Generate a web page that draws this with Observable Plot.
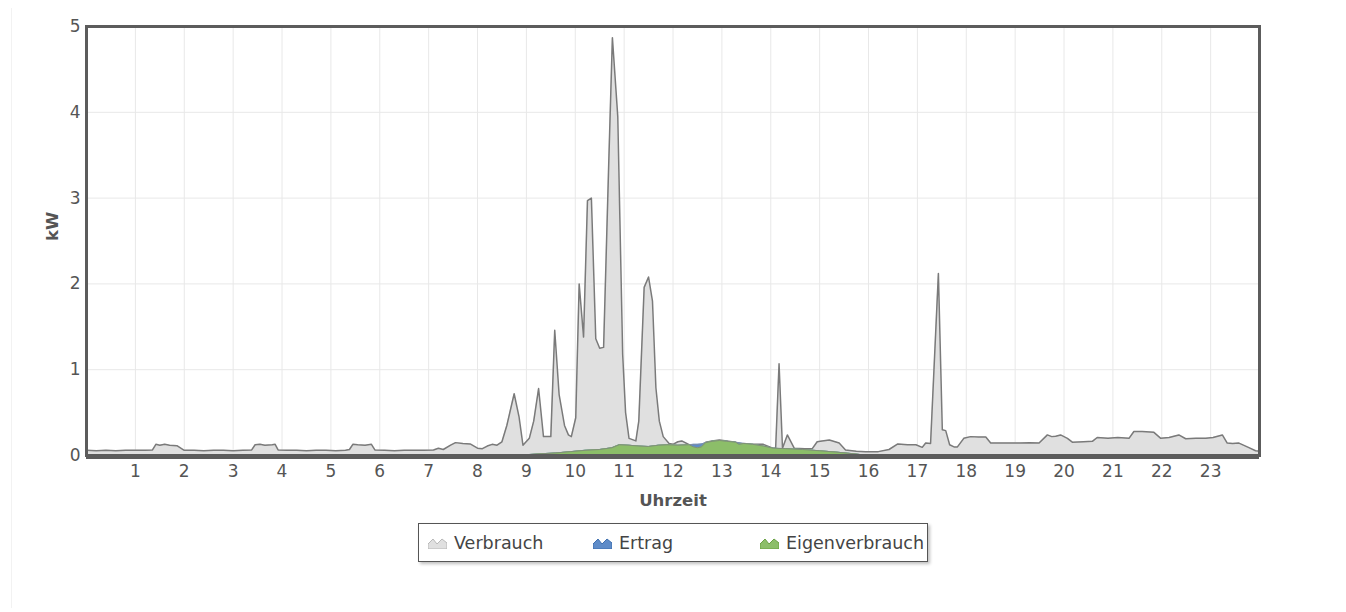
<!DOCTYPE html>
<html>
<head>
<meta charset="utf-8">
<script src="https://cdn.jsdelivr.net/npm/d3@7"></script>
<script src="https://cdn.jsdelivr.net/npm/@observablehq/plot@0.6"></script>
<style>
  html, body { margin: 0; padding: 0; background: #fff; }
  #wrap { position: relative; width: 1346px; height: 612px; font-family: "DejaVu Sans", Verdana, sans-serif; }
  #edge { position: absolute; left: 11px; top: 8px; width: 1px; height: 600px; background: #f2f2f2; }
  #chart { position: absolute; left: 0; top: 0; }
  #legend { position: absolute; left: 418px; top: 523px; width: 508px; height: 37px; border: 1.5px solid #555; background: #fff; box-shadow: 2px 2px 3px rgba(0,0,0,0.25); }
  .item { position: absolute; top: 0; height: 37px; display: flex; align-items: center; font-size: 17.5px; color: #444; white-space: nowrap; }
  .item svg { margin-right: 7px; }
</style>
</head>
<body>
<div id="wrap">
  <div id="edge"></div>
  <div id="chart"></div>
  <div id="legend"></div>
</div>
<script>
// Verbrauch (consumption), kW, over hours of day
const verbrauchTime = [0.0,0.2,0.4,0.6,0.8,1.0,1.2,1.35,1.42,1.5,1.6,1.7,1.85,2.0,2.2,2.4,2.6,2.8,3.0,3.2,3.38,3.45,3.55,3.65,3.8,3.86,3.92,4.1,4.3,4.5,4.7,4.9,5.1,5.3,5.38,5.45,5.55,5.7,5.83,5.9,6.1,6.3,6.5,6.7,6.9,7.1,7.2,7.3,7.45,7.55,7.7,7.85,8.0,8.1,8.2,8.3,8.4,8.5,8.6,8.75,8.85,8.93,9.06,9.15,9.25,9.35,9.5,9.58,9.67,9.78,9.86,9.92,10.01,10.08,10.17,10.25,10.33,10.42,10.5,10.58,10.68,10.76,10.87,10.97,11.03,11.1,11.24,11.3,11.41,11.5,11.58,11.65,11.72,11.8,11.92,12.0,12.1,12.18,12.33,12.42,12.5,12.58,12.67,12.8,12.95,13.1,13.28,13.35,13.45,13.6,13.85,14.04,14.1,14.17,14.24,14.34,14.48,14.7,14.85,14.95,15.05,15.2,15.4,15.53,15.75,15.94,16.2,16.42,16.6,16.8,16.97,17.1,17.17,17.27,17.43,17.51,17.58,17.66,17.75,17.82,17.95,18.09,18.25,18.4,18.5,18.8,19.1,19.3,19.49,19.66,19.75,19.83,19.93,20.07,20.17,20.4,20.58,20.68,20.9,21.1,21.33,21.43,21.6,21.84,21.98,22.15,22.35,22.49,22.7,22.9,23.05,23.24,23.34,23.45,23.58,23.75,23.92,24.0];
const verbrauchKW = [0.06,0.055,0.06,0.055,0.06,0.06,0.06,0.065,0.13,0.12,0.13,0.12,0.115,0.06,0.06,0.055,0.06,0.06,0.055,0.06,0.065,0.125,0.13,0.12,0.125,0.13,0.065,0.06,0.06,0.055,0.06,0.06,0.055,0.06,0.07,0.13,0.125,0.12,0.13,0.065,0.06,0.055,0.06,0.06,0.06,0.065,0.085,0.07,0.12,0.15,0.14,0.135,0.085,0.08,0.11,0.13,0.12,0.16,0.35,0.72,0.45,0.12,0.2,0.4,0.78,0.22,0.22,1.46,0.71,0.35,0.24,0.22,0.44,2.0,1.38,2.97,3.0,1.36,1.25,1.26,3.3,4.87,3.95,1.18,0.5,0.2,0.17,0.4,1.96,2.08,1.8,0.79,0.4,0.22,0.14,0.13,0.16,0.17,0.125,0.1,0.09,0.1,0.155,0.17,0.18,0.17,0.155,0.13,0.14,0.13,0.13,0.085,0.085,1.07,0.085,0.24,0.085,0.08,0.08,0.16,0.17,0.18,0.145,0.065,0.05,0.045,0.045,0.07,0.135,0.125,0.125,0.095,0.145,0.14,2.12,0.3,0.29,0.125,0.1,0.1,0.2,0.22,0.215,0.215,0.145,0.145,0.145,0.15,0.145,0.24,0.22,0.225,0.24,0.2,0.155,0.16,0.165,0.21,0.2,0.21,0.2,0.28,0.28,0.27,0.2,0.21,0.24,0.195,0.2,0.2,0.21,0.24,0.145,0.14,0.145,0.1,0.055,0.05];

// Ertrag (PV yield) and Eigenverbrauch (self consumption), kW
const ertragTime = [8.7,9.0,9.3,9.6,9.9,10.2,10.5,10.75,10.9,11.1,11.3,11.5,11.7,11.9,12.1,12.33,12.42,12.5,12.58,12.67,12.8,12.95,13.1,13.28,13.35,13.45,13.63,13.85,14.05,14.3,14.65,15.0,15.33,15.7,16.0];
const ertragKW = [0,0.01,0.02,0.03,0.045,0.06,0.07,0.09,0.125,0.12,0.11,0.105,0.12,0.125,0.12,0.125,0.13,0.13,0.135,0.15,0.165,0.175,0.165,0.155,0.15,0.14,0.13,0.11,0.085,0.08,0.07,0.055,0.04,0.02,0];
const eigenverbrauchKW = [0,0.01,0.02,0.03,0.045,0.06,0.07,0.09,0.125,0.12,0.11,0.105,0.12,0.125,0.12,0.125,0.1,0.09,0.1,0.15,0.165,0.175,0.165,0.155,0.13,0.14,0.13,0.11,0.085,0.08,0.07,0.055,0.04,0.02,0];

const xTicks = [1,2,3,4,5,6,7,8,9,10,11,12,13,14,15,16,17,18,19,20,21,22,23];
const yTicks = [0,1,2,3,4,5];
const seriesNames = ["Verbrauch", "Ertrag", "Eigenverbrauch"];
const seriesColors = ["#e0e0e0", "#5f8cc8", "#8cbe69"];

const verbrauch = verbrauchTime.map((t, i) => ({t, v: verbrauchKW[i]}));
const ertrag = ertragTime.map((t, i) => ({t, v: ertragKW[i]}));
const eigen = ertragTime.map((t, i) => ({t, v: eigenverbrauchKW[i]}));

const chart = Plot.plot({
  width: 1346,
  height: 512,
  marginLeft: 86,
  marginRight: 87,
  marginTop: 26,
  marginBottom: 57,
  style: { fontFamily: "DejaVu Sans, Verdana, sans-serif", fontSize: "17px", color: "#555", background: "transparent" },
  x: { domain: [0, 24] },
  y: { domain: [0, 5] },
  marks: [
    Plot.gridX(xTicks, { stroke: "#e8e8e8", strokeOpacity: 1, strokeWidth: 1 }),
    Plot.gridY(yTicks.slice(1, -1), { stroke: "#e8e8e8", strokeOpacity: 1, strokeWidth: 1 }),
    Plot.areaY(verbrauch, { x: "t", y: "v", fill: seriesColors[0] }),
    Plot.lineY(verbrauch, { x: "t", y: "v", stroke: "#7a7a7a", strokeWidth: 1.5 }),
    Plot.areaY(ertrag, { x: "t", y: "v", fill: seriesColors[1] }),
    Plot.lineY(ertrag, { x: "t", y: "v", stroke: "#7f8fa8", strokeWidth: 1 }),
    Plot.areaY(eigen, { x: "t", y: "v", fill: seriesColors[2] }),
    Plot.lineY(eigen, { x: "t", y: "v", stroke: "#7f8f78", strokeWidth: 1 }),
    Plot.frame({ stroke: "#5c5c5c", strokeWidth: 3 }),
    Plot.ruleY([0], { stroke: "#5c5c5c", strokeWidth: 3, dy: 2 }),
    Plot.axisX(xTicks, { tickSize: 0, tickPadding: 9, label: null, fill: "#555", tickFormat: d => String(d) }),
    Plot.axisY(yTicks, { tickSize: 0, tickPadding: 6, label: null, fill: "#555", tickFormat: d => String(d) }),
    Plot.text(["Uhrzeit"], { frameAnchor: "bottom", dy: 50, fontWeight: "bold", fill: "#555", fontSize: 16.5 }),
    Plot.text(["kW"], { frameAnchor: "left", dx: -34, rotate: -90, fontWeight: "bold", fill: "#555", fontSize: 16.5 })
  ]
});
document.getElementById("chart").appendChild(chart);

// Legend
const legend = document.getElementById("legend");
const itemLeft = [9, 174, 341];
const strokeCols = ["#b8b8b8", "#3f6fae", "#6aa043"];
seriesNames.forEach((name, i) => {
  const div = document.createElement("div");
  div.className = "item";
  div.style.left = itemLeft[i] + "px";
  div.innerHTML = `<svg width="19" height="12" viewBox="0 0 19 12"><path d="M0,12 L0,7 L5,2 L9,7 L14,2 L19,6 L19,12 Z" fill="${seriesColors[i]}" stroke="${strokeCols[i]}" stroke-width="1"/></svg><span>${name}</span>`;
  legend.appendChild(div);
});
</script>
</body>
</html>
